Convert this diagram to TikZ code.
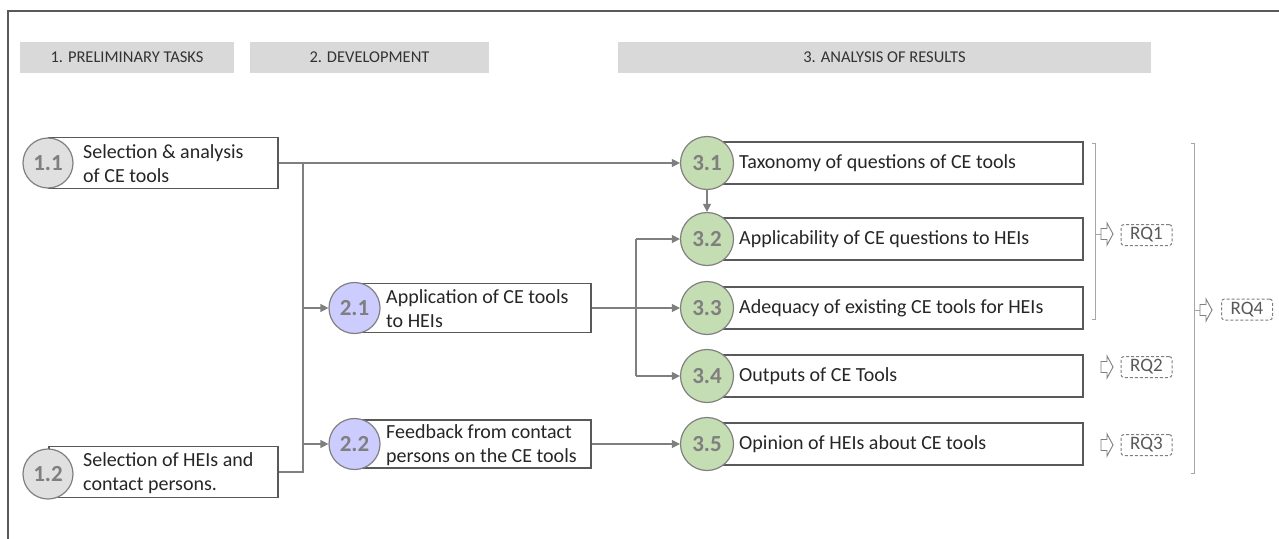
\documentclass[tikz,border=0pt]{standalone}
\usepackage{fontspec}
\setmainfont{Carlito}
\usetikzlibrary{arrows.meta}
\definecolor{frameC}{HTML}{595959}
\definecolor{headF}{HTML}{D9D9D9}
\definecolor{headT}{HTML}{333333}
\definecolor{txtC}{HTML}{262626}
\definecolor{lblC}{HTML}{7F7F7F}
\definecolor{circB}{HTML}{808080}
\definecolor{rectB}{HTML}{595959}
\definecolor{connC}{HTML}{7F7F7F}
\definecolor{grayF}{HTML}{E0E0E0}
\definecolor{lavF}{HTML}{CCCCFF}
\definecolor{grnF}{HTML}{C5DDB3}
\definecolor{brkC}{HTML}{A6A6A6}
\definecolor{rqC}{HTML}{595959}
\newcommand\blockarrow[1]{\draw[barrow] (#1) ++(0,-5.5) -- ++(6,0) -- ++(0,-5.5) -- ++(6,11) -- ++(-6,11) -- ++(0,-5.5) -- ++(-6,0) -- cycle;}
\begin{document}
\begin{tikzpicture}[x=1pt,y=-1pt,
  head/.style={fill=headF, minimum height=31pt, inner sep=0pt, text=headT, font=\fontsize{16.5}{19}\selectfont},
  rbox/.style={draw=rectB, line width=1.6pt, fill=white, anchor=west, inner sep=0pt},
  txt/.style={anchor=west, inner sep=0pt, align=left, text=txtC, font=\fontsize{20}{24}\selectfont},
  circ/.style={circle, draw=circB, line width=1.2pt, inner sep=0pt, text=lblC, font=\fontsize{23}{26}\selectfont\bfseries},
  conn/.style={draw=connC, line width=1.2pt},
  arr/.style={-{Triangle[length=8pt,width=8pt]}},
  brk/.style={draw=brkC, line width=1pt},
  barrow/.style={draw=lblC, line width=0.9pt, fill=white, line join=miter},
  rq/.style={draw=lblC, line width=1pt, dash pattern=on 3pt off 2pt, rounded corners=3pt, minimum width=51pt, minimum height=21pt, inner sep=0pt, text=rqC, font=\fontsize{19}{21}\selectfont}
]
\useasboundingbox (0,0) rectangle (1279,538);
\fill[white] (0,0) rectangle (1279,538);
\draw[draw=frameC, line width=2.4pt] (8,540) -- (8,11) -- (1281,11);

% headers
\node[head, minimum width=214pt] (h1) at (127,57.5) {1. PRELIMINARY TASKS};
\node[head, minimum width=239pt] (h2) at (369.5,57.5) {2. DEVELOPMENT};
\node[head, minimum width=533pt] (h3) at (884.5,57.5) {3. ANALYSIS OF RESULTS};

% stage 1
\node[rbox, minimum width=229pt, minimum height=51pt] (r11) at (48,163) {};
\node[txt] (t11) at (83,164) {Selection \& analysis\\of CE tools};
\node[circ, fill=grayF, minimum size=50pt] (c11) at (48,163) {1.1};
\node[rbox, minimum width=229pt, minimum height=51pt] (r12) at (48,472) {};
\node[txt] (t12) at (83,473) {Selection of HEIs and\\contact persons.};
\node[circ, fill=grayF, minimum size=50pt] (c12) at (48,474) {1.2};

% stage 2
\node[rbox, minimum width=235.5pt, minimum height=49pt] (r21) at (354.5,308) {};
\node[txt] (t21) at (386,309) {Application of CE tools\\to HEIs};
\node[circ, fill=lavF, minimum size=51pt] (c21) at (354.5,308) {2.1};
\node[rbox, minimum width=235.5pt, minimum height=48pt] (r22) at (354.5,444) {};
\node[txt] (t22) at (386,445) {Feedback from contact\\persons on the CE tools};
\node[circ, fill=lavF, minimum size=51pt] (c22) at (354.5,444) {2.2};

% stage 3
\node[rbox, minimum width=375pt, minimum height=42pt] (r31) at (707,163) {};
\node[txt] (t31) at (739,163) {Taxonomy of questions of CE tools};
\node[circ, fill=grnF, minimum size=53pt] (c31) at (707,163) {3.1};
\node[rbox, minimum width=375pt, minimum height=42pt] (r32) at (707,239) {};
\node[txt] (t32) at (739,239) {Applicability of CE questions to HEIs};
\node[circ, fill=grnF, minimum size=53pt] (c32) at (707,239) {3.2};
\node[rbox, minimum width=375pt, minimum height=42pt] (r33) at (707,308) {};
\node[txt] (t33) at (739,308) {Adequacy of existing CE tools for HEIs};
\node[circ, fill=grnF, minimum size=53pt] (c33) at (707,308) {3.3};
\node[rbox, minimum width=375pt, minimum height=42pt] (r34) at (707,376) {};
\node[txt] (t34) at (739,376) {Outputs of CE Tools};
\node[circ, fill=grnF, minimum size=53pt] (c34) at (707,376) {3.4};
\node[rbox, minimum width=375pt, minimum height=42pt] (r35) at (707,444) {};
\node[txt] (t35) at (739,444) {Opinion of HEIs about CE tools};
\node[circ, fill=grnF, minimum size=53pt] (c35) at (707,444) {3.5};

% connectors
\coordinate (j1) at (303,163);
\coordinate (j2) at (303,472);
\draw[conn, arr] (r11.east) -- (c31.west);
\draw[conn] (r12.east) -- (j2) -- (j1);
\draw[conn, arr] (j1 |- c21) -- (c21.west);
\draw[conn, arr] (j1 |- c22) -- (c22.west);
\draw[conn, arr] (r21.east) -- (c33.west);
\coordinate (k1) at (636,239);
\coordinate (k2) at (636,376);
\draw[conn] (k1) -- (k2);
\draw[conn, arr] (k1) -- (c32.west);
\draw[conn, arr] (k2) -- (c34.west);
\draw[conn, arr] (r22.east) -- (c35.west);
\draw[conn, arr] (c31.south) -- (c32.north);

% brackets and RQs
\draw[brk] (1092,143) -- (1095,143) -- (1095,319) -- (1092,319);
\draw[brk] (1095,234) -- (1101,234);
\draw[brk] (1191,143) -- (1194,143) -- (1194,473) -- (1191,473);
\draw[brk] (1194,310) -- (1200,310);
\coordinate (a1) at (1101,234);
\coordinate (a2) at (1101,367);
\coordinate (a3) at (1101,445);
\coordinate (a4) at (1200,310);
\blockarrow{a1}
\blockarrow{a2}
\blockarrow{a3}
\blockarrow{a4}
\node[rq] (rq1) at (1146.5,235) {RQ1};
\node[rq] (rq2) at (1146.5,367) {RQ2};
\node[rq] (rq3) at (1146.5,445) {RQ3};
\node[rq] (rq4) at (1247,309.5) {RQ4};
\end{tikzpicture}
\end{document}
